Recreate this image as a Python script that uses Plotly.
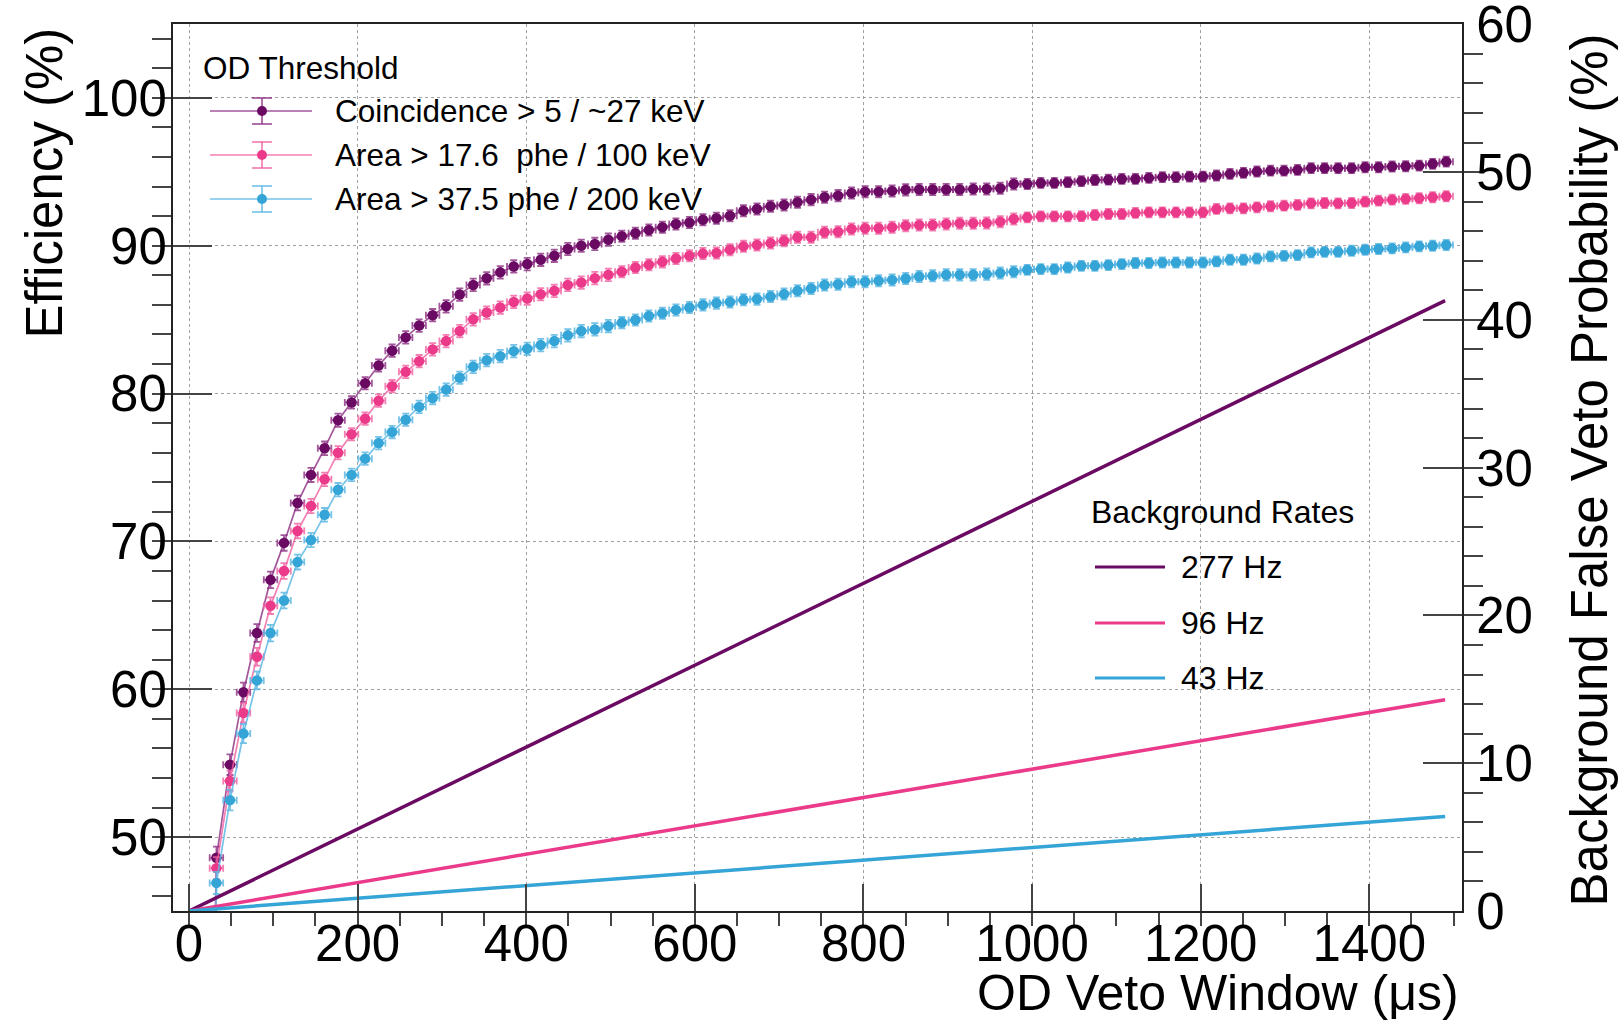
import plotly.graph_objects as go

# ---------------- data ----------------
veto_window_us = [round(16.5 + 16.03 * k, 1) for k in range(93)]

eff_coincidence = [0.0,
    48.6, 54.9, 59.8, 63.8, 67.4, 69.9, 72.6, 74.5, 76.3, 78.2, 79.4,
    80.7, 81.9, 82.9, 83.8, 84.6, 85.3, 85.9, 86.7, 87.35, 87.8,
    88.2, 88.6, 88.76, 89.05, 89.32, 89.78, 90.0, 90.12, 90.41, 90.64,
    90.84, 91.07, 91.25, 91.47, 91.57, 91.76, 91.86, 92.03, 92.37, 92.49,
    92.67, 92.76, 92.94, 93.12, 93.28, 93.39, 93.57, 93.66, 93.66, 93.71,
    93.78, 93.8, 93.8, 93.8, 93.8, 93.84, 93.84, 93.89, 94.18, 94.18,
    94.25, 94.25, 94.3, 94.37, 94.45, 94.47, 94.52, 94.52, 94.59, 94.64,
    94.64, 94.68, 94.68, 94.75, 94.86, 94.93, 95.02, 95.08, 95.08, 95.13,
    95.25, 95.25, 95.25, 95.25, 95.31, 95.31, 95.36, 95.38, 95.42, 95.54, 95.69]

eff_area_100kev = [0.0,
    47.9, 53.8, 58.4, 62.2, 65.65, 68.0, 70.7, 72.4, 74.2, 76.0, 77.25,
    78.3, 79.52, 80.5, 81.47, 82.19, 82.99, 83.55, 84.23, 85.02, 85.48,
    85.82, 86.2, 86.43, 86.72, 86.95, 87.35, 87.51, 87.81, 88.03, 88.24,
    88.53, 88.71, 88.91, 89.14, 89.32, 89.47, 89.51, 89.73, 89.96, 90.05,
    90.18, 90.34, 90.57, 90.57, 90.91, 90.95, 91.13, 91.18, 91.18, 91.25,
    91.36, 91.4, 91.4, 91.47, 91.52, 91.52, 91.54, 91.63, 91.81, 91.92,
    91.99, 91.99, 91.99, 92.0, 92.08, 92.15, 92.15, 92.22, 92.26, 92.26,
    92.26, 92.26, 92.26, 92.49, 92.53, 92.53, 92.6, 92.67, 92.71, 92.76,
    92.87, 92.89, 92.87, 92.89, 92.98, 93.05, 93.12, 93.17, 93.21, 93.28, 93.35]

eff_area_200kev = [0.0,
    46.9, 52.5, 57.0, 60.6, 63.8, 66.0, 68.6, 70.1, 71.8, 73.5, 74.5,
    75.6, 76.65, 77.4, 78.23, 79.1, 79.7, 80.27, 81.07, 81.81, 82.26,
    82.53, 82.87, 83.03, 83.28, 83.55, 83.94, 84.23, 84.34, 84.57, 84.8,
    84.98, 85.25, 85.43, 85.66, 85.82, 86.0, 86.12, 86.2, 86.34, 86.39,
    86.57, 86.73, 86.95, 87.11, 87.34, 87.4, 87.56, 87.56, 87.63, 87.69,
    87.79, 87.92, 87.97, 88.03, 88.03, 88.03, 88.08, 88.15, 88.24, 88.37,
    88.42, 88.42, 88.53, 88.64, 88.64, 88.69, 88.76, 88.83, 88.83, 88.87,
    88.87, 88.87, 88.87, 88.94, 89.05, 89.05, 89.14, 89.28, 89.32, 89.37,
    89.55, 89.59, 89.59, 89.66, 89.73, 89.78, 89.82, 89.89, 89.96, 90.0, 90.05]

eff_err = ([0.0, 0.75, 0.7, 0.65, 0.6, 0.56, 0.53, 0.5, 0.48, 0.46, 0.45]
           + [0.42] * 20 + [0.38] * 30 + [0.34] * 32)
window_half_bin = 8.0

bkg_window_us = [0, 1490]
bkg_prob_277hz = [0, 41.3]
bkg_prob_96hz = [0, 14.3]
bkg_prob_43hz = [0, 6.4]

eff_labels = ["Coincidence > 5 / ~27 keV", "Area > 17.6  phe / 100 keV", "Area > 37.5 phe / 200 keV"]
bkg_labels = ["277 Hz", "96 Hz", "43 Hz"]

# ---------------- style ----------------
FONT = "Liberation Sans, Arial, Helvetica, sans-serif"
PURPLE, PINK, BLUE = "#6B0A62", "#EC3A8B", "#34A5D6"
PURPLE_L, PINK_L, BLUE_L = "rgba(140,45,130,0.8)", "rgba(240,95,160,0.8)", "rgba(95,185,228,0.85)"

W, H = 1623, 1023
L, R, T, B = 173, 161, 24, 112
PW, PH = W - L - R, H - T - B


def px(X):
    return (X - L) / PW


def py(Y):
    return (H - B - Y) / PH


fig = go.Figure()

for ys, c, cl, name in [(eff_coincidence, PURPLE, PURPLE_L, eff_labels[0]),
                        (eff_area_100kev, PINK, PINK_L, eff_labels[1]),
                        (eff_area_200kev, BLUE, BLUE_L, eff_labels[2])]:
    fig.add_trace(go.Scatter(
        x=veto_window_us, y=ys, mode="lines+markers", name=name,
        line=dict(color=cl, width=1.7),
        marker=dict(color=c, size=10.5, line=dict(width=0)),
        error_y=dict(type="data", array=eff_err, color=cl, thickness=1.8, width=3.5),
        error_x=dict(type="constant", value=window_half_bin, color=cl, thickness=1.8, width=3.5),
        showlegend=False, xaxis="x", yaxis="y"))

for ys, c, name in [(bkg_prob_277hz, PURPLE, bkg_labels[0]),
                    (bkg_prob_96hz, PINK, bkg_labels[1]),
                    (bkg_prob_43hz, BLUE, bkg_labels[2])]:
    fig.add_trace(go.Scatter(
        x=bkg_window_us, y=ys, mode="lines", name=name,
        line=dict(color=c, width=3.5), showlegend=False,
        xaxis="x", yaxis="y2"))

axis_common = dict(
    showline=True, linecolor="#222", linewidth=2,
    ticks="inside", tickcolor="#444", tickwidth=1.5,
    tickfont=dict(family=FONT, size=51, color="black"),
    zeroline=False, ticklabeloverflow="allow", automargin=False,
)

fig.update_layout(
    width=W, height=H,
    margin=dict(l=L, r=R, t=T, b=B, autoexpand=False),
    paper_bgcolor="white", plot_bgcolor="white",
    font=dict(family=FONT, color="black"),
    xaxis=dict(
        range=[-19, 1510], dtick=200, tick0=0, ticklen=27,
        minor=dict(dtick=50, tick0=0, ticklen=13, tickcolor="#444", tickwidth=1.5, showgrid=False),
        showgrid=True, gridcolor="#a0a0a0", griddash="dot", gridwidth=1.2,
        mirror=True, ticklabelstandoff=-13, **axis_common),
    yaxis=dict(
        range=[45, 105], dtick=10, tick0=0, ticklen=39,
        minor=dict(dtick=2, tick0=0, ticklen=19, tickcolor="#444", tickwidth=1.5, showgrid=False),
        showgrid=True, gridcolor="#a0a0a0", griddash="dot", gridwidth=1.2,
        ticklabelstandoff=-6, **axis_common),
    yaxis2=dict(
        range=[0, 60.02], dtick=10, tick0=0, ticklen=39, overlaying="y", side="right",
        minor=dict(dtick=2, tick0=0, ticklen=19, tickcolor="#444", tickwidth=1.5, showgrid=False),
        showgrid=False, ticklabelstandoff=2, **axis_common),
)

ann = []
shapes = []

# axis titles
ann.append(dict(text="OD Veto Window (μs)", xref="paper", yref="paper",
                x=px(1461), y=py(993), xanchor="right", yanchor="middle",
                showarrow=False, font=dict(family=FONT, size=50)))
ann.append(dict(text="Efficiency (%)", xref="paper", yref="paper", textangle=-90,
                x=px(44), y=py(26), xanchor="center", yanchor="top",
                showarrow=False, font=dict(family=FONT, size=51)))
ann.append(dict(text="Background False Veto Probability (%)", xref="paper", yref="paper", textangle=-90,
                x=px(1589), y=py(31), xanchor="center", yanchor="top",
                showarrow=False, font=dict(family=FONT, size=51)))

# efficiency legend
LEG_FS = 31.5
ann.append(dict(text="OD Threshold", xref="paper", yref="paper", x=px(201), y=py(68),
                xanchor="left", yanchor="middle", showarrow=False, font=dict(family=FONT, size=LEG_FS)))
for rowY, c, cl, lab in [(111, PURPLE, PURPLE_L, eff_labels[0]),
                         (155, PINK, PINK_L, eff_labels[1]),
                         (199, BLUE, BLUE_L, eff_labels[2])]:
    shapes.append(dict(type="line", xref="paper", yref="paper", x0=px(210), x1=px(312),
                       y0=py(rowY), y1=py(rowY), line=dict(color=cl, width=1.7)))
    shapes.append(dict(type="line", xref="paper", yref="paper", x0=px(262), x1=px(262),
                       y0=py(rowY - 13), y1=py(rowY + 13), line=dict(color=cl, width=1.7)))
    for dy in (-13, 13):
        shapes.append(dict(type="line", xref="paper", yref="paper", x0=px(252), x1=px(272),
                           y0=py(rowY + dy), y1=py(rowY + dy), line=dict(color=cl, width=1.7)))
    shapes.append(dict(type="circle", xref="paper", yref="paper", x0=px(257), x1=px(267),
                       y0=py(rowY - 5), y1=py(rowY + 5), fillcolor=c, line=dict(width=0)))
    ann.append(dict(text=lab, xref="paper", yref="paper", x=px(333), y=py(rowY),
                    xanchor="left", yanchor="middle", showarrow=False, font=dict(family=FONT, size=LEG_FS)))

# background legend
ann.append(dict(text="Background Rates", xref="paper", yref="paper", x=px(1089), y=py(512),
                xanchor="left", yanchor="middle", showarrow=False, font=dict(family=FONT, size=32)))
for rowY, c, lab in [(567, PURPLE, bkg_labels[0]), (623, PINK, bkg_labels[1]), (678, BLUE, bkg_labels[2])]:
    shapes.append(dict(type="line", xref="paper", yref="paper", x0=px(1095), x1=px(1165),
                       y0=py(rowY), y1=py(rowY), line=dict(color=c, width=3)))
    ann.append(dict(text=lab, xref="paper", yref="paper", x=px(1179), y=py(rowY),
                    xanchor="left", yanchor="middle", showarrow=False, font=dict(family=FONT, size=32)))

fig.update_layout(annotations=ann, shapes=shapes)

fig.write_html("out.html")
